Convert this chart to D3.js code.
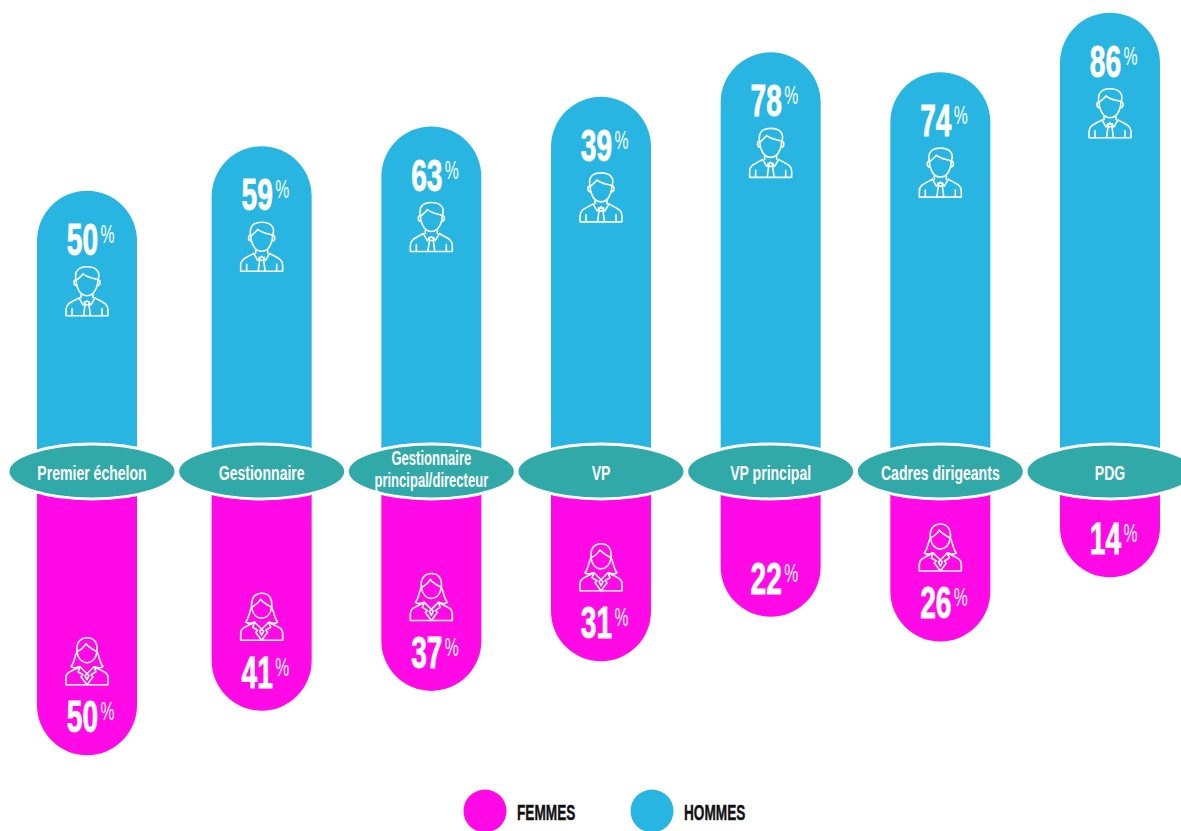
<!DOCTYPE html>
<html><head><meta charset="utf-8">
<script src="https://cdn.jsdelivr.net/npm/d3@7"></script>
<style>html,body{margin:0;padding:0;background:#fff;overflow:hidden}svg{display:block}
text{font-family:"Liberation Sans Narrow","Liberation Sans",sans-serif}</style></head>
<body><svg id="c" width="1181" height="831"></svg>
<script>
const categories = ["Premier échelon","Gestionnaire","Gestionnaire\nprincipal/directeur","VP","VP principal","Cadres dirigeants","PDG"];
const hommesBar = [50,59,63,69,78,74,86];
const hommesLabel = ["50","59","63","39","78","74","86"];
const femmesBar = [50,41,37,31,22,27,14];
const femmesLabel = ["50","41","37","31","22","26","14"];
const femmesIcon = [true,true,true,true,false,true,false];
const legendItems = ["FEMMES","HOMMES"];

const BLUE="#29B5E2", PINK="#FF0AE6", TEAL="#30A9A8";
const svg=d3.select("#c");
const x=d3.scalePoint().domain(categories).range([92,1110]);
const yUp=d3.scaleLinear().domain([0,100]).range([438,-56.4]);
const yDown=d3.scaleLinear().domain([0,100]).range([508,1002.4]);
const halfW=50;
const cx=(c,i)=>x(c)-(i===0?5:0);

function pill(xc,base,end){
  const dir=end<base?1:-1, p=d3.path();
  p.moveTo(xc-halfW,base);
  p.lineTo(xc-halfW,end+dir*halfW);
  p.arcTo(xc-halfW,end,xc,end,halfW);
  p.arcTo(xc+halfW,end,xc+halfW,end+dir*halfW,halfW);
  p.lineTo(xc+halfW,base);
  p.closePath();
  return p.toString();
}
const manPaths=[
 "M-11,-12C-13,-21 -8,-25 0,-25C9,-25 14,-20 11,-12C11,-8 10,-5 9,-3C7,2 4,4 0,4C-4,4 -7,2 -9,-3C-10,-5 -11,-8 -11,-12Z",
 "M-11,-11C-8,-14 -5,-16 -4,-18C0,-14 6,-14 11,-12",
 "M-11,-12C-14,-12 -14,-6 -10,-6M11,-12C14,-12 14,-6 10,-6",
 "M-6,3L-6,6M6,3L6,6",
 "M-21,24L-21,18C-21,11 -14,10 -8,6L-4,13L0,9L4,13L8,6C14,10 21,11 21,18L21,24Z",
 "M-2.5,10L-2,13L-3.5,24M2.5,10L2,13L3.5,24M-2,13L2,13",
 "M-15,24L-15,17M15,24L15,17"
];
const womanPaths=[
 "M-10,-10C-11,-20 -6,-24 0,-24C7,-24 11,-19 10,-10C9,-3 5,1 0,1C-5,1 -9,-3 -10,-10Z",
 "M-10,-10C-6,-12 -3,-14 -1,-18C2,-14 6,-12 10,-10",
 "M-10,-10C-13,-4 -12,0 -16,5C-13,7 -10,6 -8,5M10,-10C13,-4 12,0 16,5C13,7 10,6 8,5",
 "M-21,23L-21,16C-21,10 -14,9 -7,5L0,12L7,5C14,9 21,10 21,16L21,23Z",
 "M-7,5L-9,10L-4,13L-6,15L0,23L6,15L4,13L9,10L7,5",
 "M-2,14L0,12L2,14L0,18Z"
];
function icon(g,paths,xc,yc){
  const s=g.append("g").attr("transform",`translate(${xc},${yc})`)
    .attr("fill","none").attr("stroke","#fff").attr("stroke-width",1.6).attr("stroke-linejoin","round").attr("stroke-linecap","round");
  paths.forEach(d=>s.append("path").attr("d",d));
}
function pct(g,label,xc,yBase){
  const t=g.append("g").attr("transform",`translate(${xc-4.5},${yBase})`).attr("fill","#fff");
  t.append("text").attr("transform","scale(0.64,1)").attr("text-anchor","middle")
    .attr("font-size",44).attr("font-weight",700).attr("stroke","#fff").attr("stroke-width",.8).text(label);
  t.append("text").attr("x",18).attr("y",-12).attr("font-size",25)
    .attr("textLength",14).attr("lengthAdjust","spacingAndGlyphs").text("%");
}
categories.forEach((c,i)=>{
  const g=svg.append("g"), xc=cx(c,i);
  const top=yUp(hommesBar[i]), bot=yDown(femmesBar[i]);
  g.append("path").attr("d",pill(xc,470,top)).attr("fill",BLUE);
  g.append("path").attr("d",pill(xc,470,bot)).attr("fill",PINK);
  pct(g,hommesLabel[i],xc,top+64);
  icon(g,manPaths,xc,top+101);
  pct(g,femmesLabel[i],xc,bot-23);
  if(femmesIcon[i]) icon(g,womanPaths,xc,bot-93.5);
});
categories.forEach(c=>{
  const g=svg.append("g").attr("transform",`translate(${x(c)},471.5)`);
  g.append("ellipse").attr("rx",84).attr("ry",27.5).attr("fill",TEAL).attr("stroke","#fff").attr("stroke-width",3);
  const lines=c.split("\n");
  lines.forEach((l,j)=>{
    const two=lines.length>1;
    const yy=two?(j===0?-7:15):8;
    g.append("text").attr("transform",`translate(0,${yy}) scale(${two?0.67:0.67},1)`)
      .attr("text-anchor","middle").attr("font-size",two?19.5:21).attr("font-weight",700).attr("fill","#fff").text(l);
  });
});
const lx=d3.scalePoint().domain(legendItems).range([485,652]);
legendItems.forEach((l,i)=>{
  svg.append("circle").attr("cx",lx(l)).attr("cy",811).attr("r",21.5).attr("fill",i===0?PINK:BLUE);
  svg.append("text").attr("transform",`translate(${lx(l)+32},820) scale(0.62,1)`)
    .attr("font-size",22).attr("font-weight",700).attr("fill","#111").attr("stroke","#111").attr("stroke-width",.4).text(l);
});
</script></body></html>
